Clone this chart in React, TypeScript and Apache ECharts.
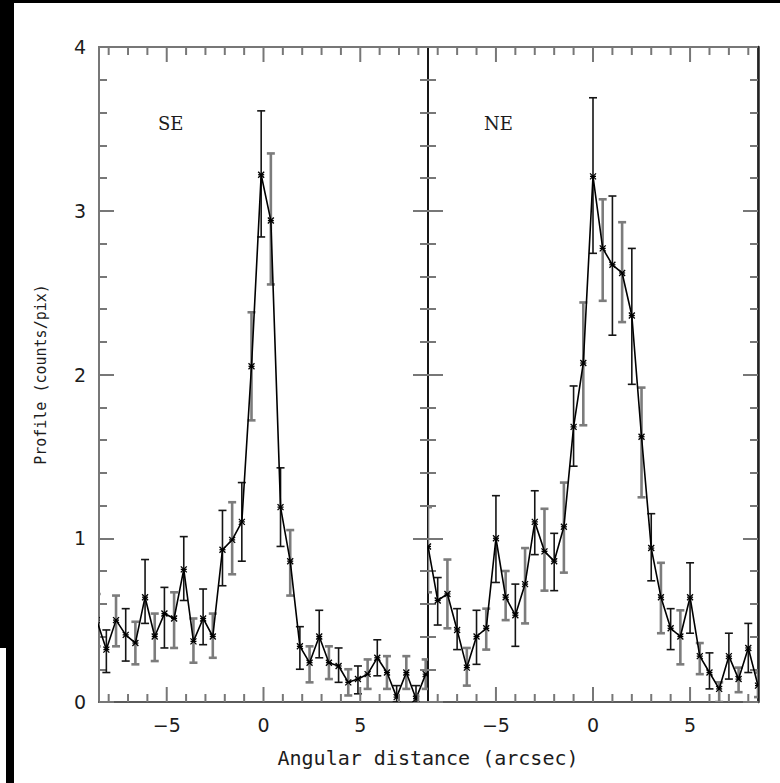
import React, { useEffect, useRef } from "react";
import * as echarts from "echarts";

// ---- data ----
const LEFT_X = [-8.62, -8.12, -7.62, -7.12, -6.62, -6.12, -5.62, -5.12, -4.62, -4.12, -3.62, -3.12, -2.62, -2.12, -1.62, -1.12, -0.62, -0.12, 0.38, 0.88, 1.38, 1.88, 2.38, 2.88, 3.38, 3.88, 4.38, 4.88, 5.38, 5.88, 6.38, 6.88, 7.38, 7.88, 8.38];
const LEFT_Y = [0.5, 0.32, 0.5, 0.41, 0.36, 0.64, 0.4, 0.54, 0.51, 0.81, 0.37, 0.51, 0.4, 0.93, 0.99, 1.1, 2.05, 3.22, 2.94, 1.19, 0.86, 0.34, 0.24, 0.4, 0.24, 0.22, 0.12, 0.14, 0.17, 0.27, 0.18, 0.03, 0.18, 0.02, 0.17];
const LEFT_LO = [0.34, 0.18, 0.34, 0.25, 0.23, 0.48, 0.25, 0.33, 0.33, 0.62, 0.24, 0.35, 0.27, 0.71, 0.78, 0.86, 1.72, 2.84, 2.55, 0.95, 0.65, 0.2, 0.12, 0.27, 0.14, 0.12, 0.04, 0.05, 0.08, 0.16, 0.08, 0.0, 0.08, 0.0, 0.08];
const LEFT_HI = [0.66, 0.44, 0.65, 0.57, 0.49, 0.87, 0.54, 0.7, 0.67, 1.01, 0.51, 0.69, 0.54, 1.17, 1.22, 1.34, 2.38, 3.61, 3.35, 1.43, 1.05, 0.46, 0.34, 0.56, 0.34, 0.33, 0.2, 0.22, 0.26, 0.38, 0.28, 0.1, 0.28, 0.1, 0.26];

const RIGHT_X = [-8.5, -8, -7.5, -7, -6.5, -6, -5.5, -5, -4.5, -4, -3.5, -3, -2.5, -2, -1.5, -1, -0.5, 0, 0.5, 1, 1.5, 2, 2.5, 3, 3.5, 4, 4.5, 5, 5.5, 6, 6.5, 7, 7.5, 8, 8.5];
const RIGHT_Y = [0.95, 0.62, 0.66, 0.44, 0.21, 0.4, 0.45, 1.0, 0.64, 0.53, 0.72, 1.1, 0.92, 0.86, 1.07, 1.68, 2.07, 3.21, 2.77, 2.67, 2.62, 2.36, 1.62, 0.94, 0.64, 0.45, 0.4, 0.64, 0.28, 0.18, 0.08, 0.28, 0.14, 0.33, 0.1];
const RIGHT_LO = [0.67, 0.47, 0.45, 0.32, 0.1, 0.23, 0.32, 0.73, 0.5, 0.34, 0.48, 0.9, 0.68, 0.68, 0.79, 1.44, 1.69, 2.74, 2.45, 2.24, 2.32, 1.94, 1.25, 0.74, 0.42, 0.32, 0.23, 0.42, 0.17, 0.08, 0.0, 0.14, 0.06, 0.18, 0.03];
const RIGHT_HI = [1.19, 0.76, 0.87, 0.57, 0.33, 0.56, 0.57, 1.26, 0.8, 0.72, 0.94, 1.29, 1.18, 1.03, 1.34, 1.93, 2.44, 3.69, 3.07, 3.09, 2.93, 2.77, 1.92, 1.15, 0.85, 0.57, 0.56, 0.85, 0.36, 0.3, 0.12, 0.42, 0.21, 0.48, 0.18];

const X_TICKS = [-8, -7, -6, -5, -4, -3, -2, -1, 0, 1, 2, 3, 4, 5, 6, 7, 8];
const X_MAJOR = [-5, 0, 5];
const PANEL_LABELS = ["SE", "NE"];

const AXIS_GRAY = "#777";
const TEXT = "#1c1c1c";

function errorBarSeries(xs: number[], lo: number[], hi: number[], ys: number[], axisIdx: number, yIdx: number) {
  return {
    type: "custom",
    xAxisIndex: axisIdx,
    yAxisIndex: yIdx,
    clip: true,
    z: 2,
    data: xs.map((x, i) => [x, lo[i], hi[i], ys[i]]),
    encode: { x: 0, y: [1, 2] },
    renderItem: (params: any, api: any) => {
      const x = api.value(0);
      const pLo = api.coord([x, api.value(1)]);
      const pHi = api.coord([x, api.value(2)]);
      const dark = params.dataIndex % 2 === 1;
      const color = dark ? "#151515" : "#7c7c7c";
      const lw = dark ? 1.6 : 2.6;
      const cw = 4;
      const st = { stroke: color, lineWidth: lw };
      return {
        type: "group",
        children: [
          { type: "line", shape: { x1: pLo[0], y1: pLo[1], x2: pHi[0], y2: pHi[1] }, style: st },
          { type: "line", shape: { x1: pLo[0] - cw, y1: pLo[1], x2: pLo[0] + cw, y2: pLo[1] }, style: st },
          { type: "line", shape: { x1: pHi[0] - cw, y1: pHi[1], x2: pHi[0] + cw, y2: pHi[1] }, style: st },
        ],
      };
    },
  };
}

function lineSeries(xs: number[], ys: number[], axisIdx: number, yIdx: number) {
  return {
    type: "line",
    xAxisIndex: axisIdx,
    yAxisIndex: yIdx,
    z: 3,
    data: xs.map((x, i) => [x, ys[i]]),
    showSymbol: false,
    symbol: "none",
    lineStyle: { color: "#000", width: 1.6 },
    clip: true,
  };
}

function markerSeries(xs: number[], ys: number[], axisIdx: number, yIdx: number) {
  return {
    type: "custom",
    xAxisIndex: axisIdx,
    yAxisIndex: yIdx,
    clip: true,
    z: 4,
    data: xs.map((x, i) => [x, ys[i]]),
    encode: { x: 0, y: 1 },
    renderItem: (params: any, api: any) => {
      const p = api.coord([api.value(0), api.value(1)]);
      const s = 3;
      const st = { stroke: "#000", lineWidth: 1.3 };
      return {
        type: "group",
        children: [
          { type: "line", shape: { x1: p[0] - s, y1: p[1] - s, x2: p[0] + s, y2: p[1] + s }, style: st },
          { type: "line", shape: { x1: p[0] - s, y1: p[1] + s, x2: p[0] + s, y2: p[1] - s }, style: st },
          { type: "line", shape: { x1: p[0] - s, y1: p[1], x2: p[0] + s, y2: p[1] }, style: st },
        ],
      };
    },
  };
}

function xTickSeries(axisIdx: number, yIdx: number) {
  return {
    type: "custom",
    xAxisIndex: axisIdx,
    yAxisIndex: yIdx,
    z: 5,
    silent: true,
    data: X_TICKS.map((v) => [v, 0]),
    encode: { x: 0, y: 1 },
    renderItem: (params: any, api: any) => {
      const v = api.value(0);
      const b = api.coord([v, 0]);
      const t = api.coord([v, 4]);
      const major = X_MAJOR.indexOf(v) >= 0;
      const len = major ? 15 : 8;
      const st = { stroke: AXIS_GRAY, lineWidth: 2 };
      const children: any[] = [
        { type: "line", shape: { x1: b[0], y1: b[1], x2: b[0], y2: b[1] - len }, style: st },
        { type: "line", shape: { x1: t[0], y1: t[1], x2: t[0], y2: t[1] + len }, style: st },
      ];
      if (major) {
        const label = v < 0 ? "\u2212" + Math.abs(v) : String(v);
        children.push({
          type: "text",
          x: b[0],
          y: b[1] + 23,
          style: {
            text: label,
            font: "19px 'DejaVu Sans'",
            fill: TEXT,
            align: "center",
            verticalAlign: "middle",
            textAlign: "center",
            textVerticalAlign: "middle",
          },
        });
      }
      return { type: "group", children };
    },
  };
}

function yAxisDef(gridIndex: number, position: string, showLabel: boolean, lineColor: string, lineWidth: number, name?: string) {
  return {
    type: "value",
    gridIndex,
    position,
    min: 0,
    max: 4,
    interval: 1,
    axisLine: { show: true, onZero: false, lineStyle: { color: lineColor, width: lineWidth } },
    axisTick: { show: true, inside: true, length: 15, lineStyle: { color: AXIS_GRAY, width: 2 } },
    minorTick: { show: true, splitNumber: 5, length: 8, lineStyle: { color: AXIS_GRAY, width: 2 } },
    splitLine: { show: false },
    minorSplitLine: { show: false },
    axisLabel: {
      show: showLabel,
      margin: 13,
      fontSize: 19,
      fontFamily: "DejaVu Sans",
      color: TEXT,
    },
    name: name || "",
    nameLocation: "middle",
    nameGap: 51,
    nameTextStyle: { fontFamily: "DejaVu Sans Mono", fontSize: 15, color: TEXT },
  };
}

function xAxisDef(gridIndex: number) {
  return {
    type: "value",
    gridIndex,
    min: -8.5,
    max: 8.5,
    axisLine: { show: true, onZero: false, lineStyle: { color: "#5a5a5a", width: 2 } },
    axisTick: { show: false },
    axisLabel: { show: false },
    splitLine: { show: false },
  };
}

export default function App() {
  const ref = useRef<HTMLDivElement>(null);
  useEffect(() => {
    if (!ref.current) return;
    const chart = echarts.init(ref.current, null, { renderer: "svg" });
    chart.setOption({
      animation: false,
      backgroundColor: "#fff",
      grid: [
        { left: 99, top: 47, width: 329, height: 655, show: true, borderColor: AXIS_GRAY, borderWidth: 2 },
        { left: 428, top: 47, width: 330, height: 655, show: true, borderColor: AXIS_GRAY, borderWidth: 2 },
      ],
      xAxis: [xAxisDef(0), xAxisDef(1)],
      yAxis: [
        yAxisDef(0, "left", true, AXIS_GRAY, 2, "Profile (counts/pix)"),
        yAxisDef(0, "right", false, "#111", 1.5),
        yAxisDef(1, "left", false, "#111", 1.5),
        yAxisDef(1, "right", false, "#222", 2.5),
      ],
      series: [
        errorBarSeries(LEFT_X, LEFT_LO, LEFT_HI, LEFT_Y, 0, 0),
        lineSeries(LEFT_X, LEFT_Y, 0, 0),
        markerSeries(LEFT_X, LEFT_Y, 0, 0),
        errorBarSeries(RIGHT_X, RIGHT_LO, RIGHT_HI, RIGHT_Y, 1, 2),
        lineSeries(RIGHT_X, RIGHT_Y, 1, 2),
        markerSeries(RIGHT_X, RIGHT_Y, 1, 2),
        xTickSeries(0, 0),
        xTickSeries(1, 2),
      ],
      graphic: [
        { type: "rect", shape: { x: 0, y: 0, width: 780, height: 3 }, style: { fill: "#000" }, silent: true },
        { type: "rect", shape: { x: 0, y: 0, width: 14, height: 648 }, style: { fill: "#000" }, silent: true },
        { type: "rect", shape: { x: 6, y: 648, width: 8, height: 135 }, style: { fill: "#000" }, silent: true },
        {
          type: "text",
          x: 158,
          y: 123,
          style: { text: PANEL_LABELS[0], font: "18px 'DejaVu Serif'", fill: TEXT, textVerticalAlign: "middle", verticalAlign: "middle" },
        },
        {
          type: "text",
          x: 484,
          y: 123,
          style: { text: PANEL_LABELS[1], font: "18px 'DejaVu Serif'", fill: TEXT, textVerticalAlign: "middle", verticalAlign: "middle" },
        },
        {
          type: "text",
          x: 428,
          y: 758,
          style: {
            text: "Angular distance (arcsec)",
            font: "20px 'DejaVu Sans Mono'",
            fill: TEXT,
            textAlign: "center",
            align: "center",
            textVerticalAlign: "middle",
            verticalAlign: "middle",
          },
        },
      ],
    });
    return () => chart.dispose();
  }, []);
  return (
    <div
      ref={ref}
      style={{ position: "fixed", left: 0, top: 0, width: 780, height: 783, background: "#fff" }}
    />
  );
}
